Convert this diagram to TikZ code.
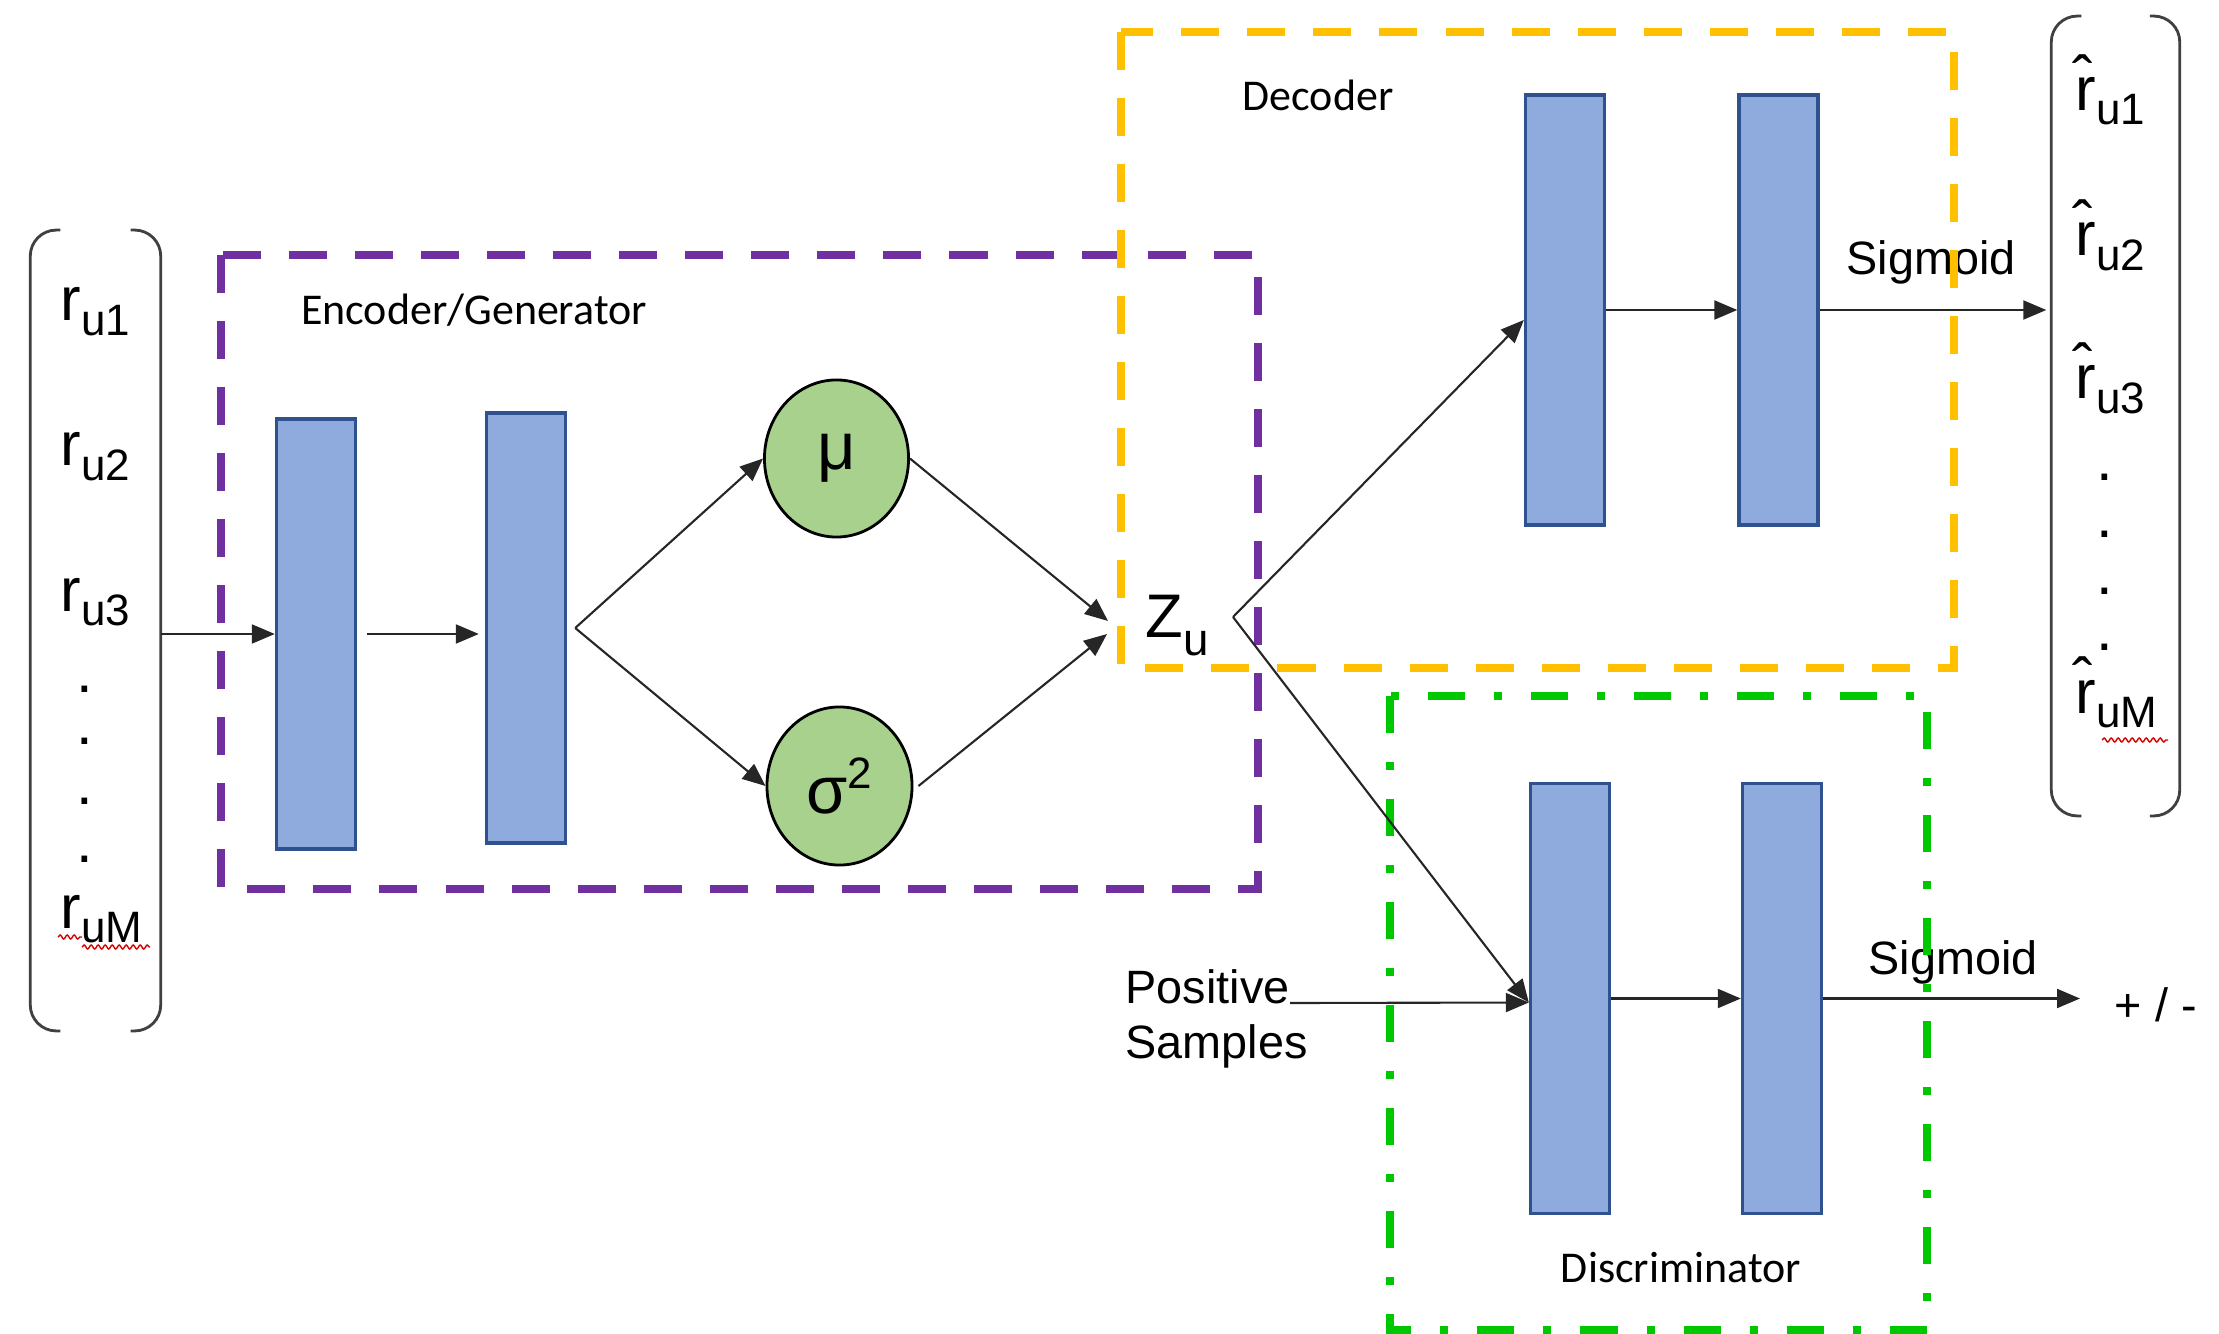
\documentclass[tikz,border=0pt]{standalone}
\usepackage{fontspec}
\setmainfont{Liberation Sans}
\newfontfamily\calib{Carlito}
\usetikzlibrary{arrows.meta,shapes.geometric,decorations.pathmorphing}

\definecolor{blkfill}{HTML}{8FAADC}
\definecolor{blkline}{HTML}{2F528F}
\definecolor{gaussfill}{HTML}{A9D18E}
\definecolor{encpurple}{HTML}{7030A0}
\definecolor{decorange}{HTML}{FFC000}
\definecolor{discgreen}{HTML}{00C800}

% rating symbol with a lowered index
\newcommand\rsub[2]{{\fontsize{17.5}{20}\selectfont #1}\raisebox{-0.14cm}{\fontsize{12.5}{15}\selectfont #2}}

\begin{document}
\begin{tikzpicture}[x=0.01cm,y=-0.01cm,
  layer/.style={draw=blkline, line width=0.95pt, fill=blkfill,
    minimum width=0.79cm, minimum height=4.3cm, inner sep=0pt},
  gauss/.style={ellipse, draw=black, line width=0.8pt, fill=gaussfill,
    minimum width=1.44cm, minimum height=1.57cm, inner sep=0pt,
    font=\fontsize{19}{21}\selectfont},
  arr/.style={-{Triangle[length=0.23cm,width=0.19cm]}, line width=0.6pt, black!85},
  brk/.style={line width=0.8pt, black!75, rounded corners=0.26cm},
  vecbox/.style={inner sep=0pt},
  txt/.style={inner sep=0pt},
  dotlbl/.style={inner sep=0pt, font=\fontsize{17}{20}\selectfont},
  boxlabel/.style={inner sep=0pt, font=\calib\fontsize{12.5}{15}\selectfont},
  sidelabel/.style={inner sep=0pt, font=\fontsize{13.3}{16}\selectfont},
  groupbox/.style={line width=2.3pt},
  encbox/.style={groupbox, draw=encpurple, dash pattern=on 0.38cm off 0.28cm},
  decbox/.style={groupbox, draw=decorange, dash pattern=on 0.38cm off 0.28cm},
  discbox/.style={groupbox, draw=discgreen,
    dash pattern=on 0.37cm off 0.29cm on 0.08cm off 0.29cm},
  squiggle/.style={draw=red!85!black, line width=0.4pt, decorate,
    decoration={snake, amplitude=0.02cm, segment length=0.07cm}}]

\useasboundingbox (0,0) rectangle (2219,1334);

% ---- input rating vector ----
\node[vecbox, minimum width=1.29cm, minimum height=7.99cm] (invec) at (95.5,630.5) {};
\draw[brk] ([xshift=0.3cm]invec.north west) -- (invec.north west)
  -- (invec.south west) -- ([xshift=0.3cm]invec.south west);
\draw[brk] ([xshift=-0.3cm]invec.north east) -- (invec.north east)
  -- (invec.south east) -- ([xshift=-0.3cm]invec.south east);
\node[txt, anchor=base west] (ru1) at (60,321) {\rsub{r}{u1}};
\node[txt, anchor=base west] (ru2) at (60,466) {\rsub{r}{u2}};
\node[txt, anchor=base west] (ru3) at (60,611) {\rsub{r}{u3}};
\node[dotlbl] (ld1) at (85,689) {.};
\node[dotlbl] (ld2) at (85,741) {.};
\node[dotlbl] (ld3) at (85,801) {.};
\node[dotlbl] (ld4) at (85,859) {.};
\node[txt, anchor=base west] (ruM) at (60,928) {\rsub{r}{uM}};
\draw[squiggle] (58,937) -- (82,937);
\draw[squiggle] (82,947) -- (150,947);

% ---- reconstructed rating vector ----
\node[vecbox, minimum width=1.27cm, minimum height=7.98cm] (outvec) at (2115.5,416) {};
\draw[brk] ([xshift=0.3cm]outvec.north west) -- (outvec.north west)
  -- (outvec.south west) -- ([xshift=0.3cm]outvec.south west);
\draw[brk] ([xshift=-0.3cm]outvec.north east) -- (outvec.north east)
  -- (outvec.south east) -- ([xshift=-0.3cm]outvec.south east);
\node[txt, anchor=base west] (rh1) at (2075,111) {\rsub{\^{r}}{u1}};
\node[txt, anchor=base west] (rh2) at (2075,256) {\rsub{\^{r}}{u2}};
\node[txt, anchor=base west] (rh3) at (2075,399) {\rsub{\^{r}}{u3}};
\node[dotlbl] (rd1) at (2105,477) {.};
\node[dotlbl] (rd2) at (2105,534) {.};
\node[dotlbl] (rd3) at (2105,591) {.};
\node[dotlbl] (rd4) at (2105,647) {.};
\node[txt, anchor=base west] (rhM) at (2075,713) {\rsub{\^{r}}{uM}};
\draw[squiggle] (2102,740) -- (2168,740);

% ---- encoder / generator ----
\node[layer] (e1) at (316,634) {};
\node[layer] (e2) at (526,628) {};
\node[gauss] (mu) at (836.5,458.5) {μ};
\node[gauss, minimum width=1.45cm, minimum height=1.58cm] (sig) at (839.5,786)
  {σ\raisebox{0.25cm}{\fontsize{12.5}{15}\selectfont 2}};
\node[boxlabel, anchor=base] (enclbl) at (474,325) {Encoder/Generator};

% ---- latent code ----
\node[txt, anchor=base west] (zu) at (1145,637)
  {\fontsize{17.5}{20}\selectfont Z\raisebox{-0.18cm}{\fontsize{13}{15}\selectfont u}};
\coordinate (ztopin) at (1108,621);
\coordinate (zbotin) at (1107,634);
\coordinate (zv) at (1233,617);

% ---- decoder ----
\node[layer] (d1) at (1565,310) {};
\node[layer] (d2) at (1778.5,310) {};
\node[boxlabel, anchor=base] (declbl) at (1318,111) {Decoder};
\node[sidelabel, anchor=base] (sigdec) at (1931,275) {Sigmoid};

% ---- discriminator ----
\node[layer] (q1) at (1570,998.5) {};
\node[layer] (q2) at (1782,998.5) {};
\node[boxlabel, anchor=base] (disclbl) at (1681,1282) {Discriminator};
\node[sidelabel, anchor=base] (sigdisc) at (1953,974) {Sigmoid};
\node[sidelabel, anchor=base west] (pos1) at (1125,1003) {Positive};
\node[sidelabel, anchor=base west] (pos2) at (1125,1058) {Samples};
\node[sidelabel, anchor=west] (pm) at (2114,1005) {+ / -};

% ---- group frames ----
\draw[encbox] (221,255) rectangle (1258,889);
\draw[decbox] (1121,32) rectangle (1954,668);
\draw[discbox] (1390,696) rectangle (1927,1330);

% ---- connectors ----
\draw[arr] (invec.east |- e1.west) -- (e1.west);
\draw[arr] ([xshift=0.1cm]e1.east) -- ([xshift=-0.06cm]e2.west |- e1.east);
\coordinate (fork) at ([xshift=0.08cm]e2.east);
\draw[arr] (fork) -- (mu.west);
\draw[arr] (fork) -- (sig.west);
\draw[arr] (mu.east) -- (ztopin);
\draw[arr] ([xshift=0.05cm]sig.east) -- (zbotin);
\draw[arr] (zv) -- ([yshift=-0.1cm]d1.west);
\draw[arr] (zv) -- ([yshift=-0.04cm]q1.west);
\draw[arr] (d1.east) -- (d2.west);
\draw[arr] (d2.east) -- ([xshift=-0.05cm]outvec.west |- d2.east);
\draw[arr] (pos1.base east) -- ([yshift=-0.04cm]q1.west);
\draw[arr] (q1.east) -- (q2.west);
\draw[arr] (q2.east) -- ([xshift=-0.34cm]pm.west |- q2.east);
\end{tikzpicture}
\end{document}
